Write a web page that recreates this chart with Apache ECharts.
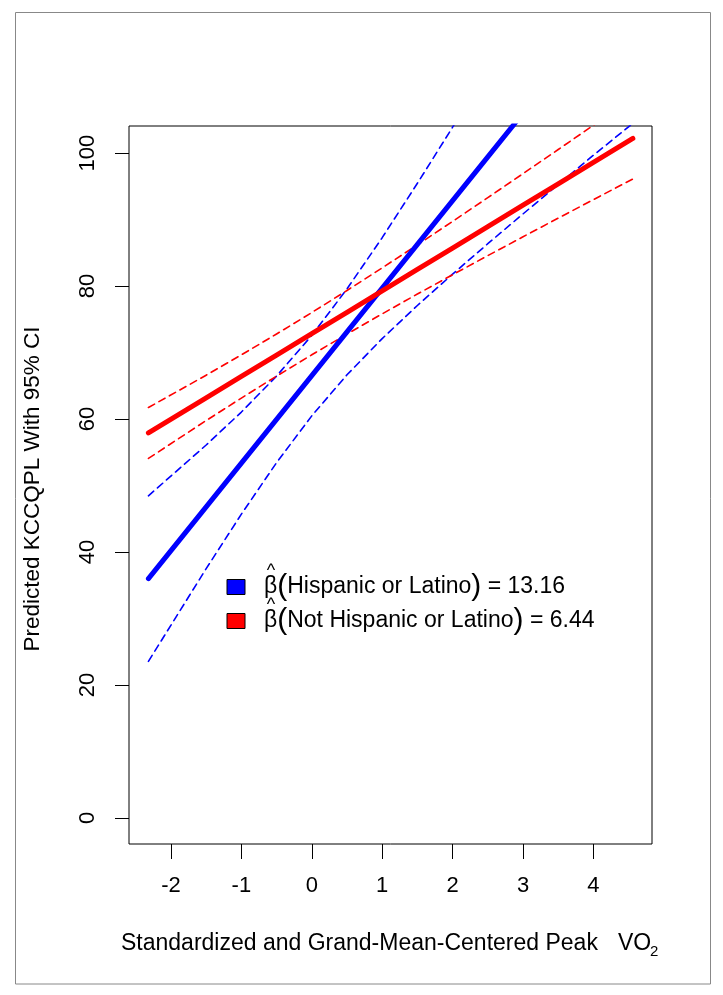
<!DOCTYPE html>
<html><head><meta charset="utf-8">
<script src="https://cdn.jsdelivr.net/npm/echarts@6/dist/echarts.min.js"></script>
<style>html,body{margin:0;padding:0;background:#fff}#c{width:723px;height:995px}</style>
</head><body><div id="c"></div>
<script>
// ---- data ----
const xs        = [-2.32, -1.5, -1, -0.5, 0, 0.5, 1, 1.5, 2, 2.5, 3, 3.5, 4, 4.56];
const blueFit   = [36.0, 46.79, 53.37, 59.95, 66.53, 73.11, 79.69, 86.27, 92.85, 99.43, 106.01, 112.6, 119.2, 126.5];
const blueUpper = [48.45, 56.09, 61.05, 66.46, 72.58, 79.57, 87.28, 95.46, 103.9, 112.5, 121.17, 129.92, 138.72, 148.52];
const blueLower = [23.55, 37.49, 45.69, 53.44, 60.48, 66.65, 72.10, 77.08, 81.80, 86.37, 90.85, 95.28, 99.68, 104.48];
const redFit    = [57.9, 63.18, 66.40, 69.62, 72.84, 76.06, 79.28, 82.50, 85.72, 88.94, 92.16, 95.38, 98.60, 102.21];
const redUpper  = [61.73, 66.59, 69.65, 72.79, 76.02, 79.34, 82.74, 86.20, 89.73, 93.30, 96.91, 100.54, 104.19, 108.31];
const redLower  = [54.07, 59.77, 63.15, 66.45, 69.66, 72.78, 75.82, 78.80, 81.71, 84.58, 87.41, 90.22, 93.01, 96.11];
const xTicks = [-2, -1, 0, 1, 2, 3, 4];
const yTicks = [0, 20, 40, 60, 80, 100];
const groups = ['Hispanic or Latino', 'Not Hispanic or Latino'];
const betas  = ['13.16', '6.44'];
const colors = ['#0000ff', '#ff0000'];
const xTitle = 'Standardized and Grand-Mean-Centered Peak';
const xTitleUnit = 'VO';
const xTitleSub = '2';
const yTitle = 'Predicted KCCQPL With 95% CI';

const FONT = '"Liberation Sans", Arial, sans-serif';

function mk(arr, color, solid) {
  return {
    type: 'line',
    data: xs.map((x, i) => [x, arr[i]]),
    symbol: 'none', showSymbol: false, clip: true, silent: true,
    lineStyle: { color: color, width: solid ? 5 : 1.6, type: solid ? 'solid' : [7, 5], cap: 'round', join: 'round' },
    z: solid ? 3 : 2
  };
}

const legendGraphics = [];
const rowY = [587, 621];
groups.forEach((g, i) => {
  legendGraphics.push({
    type: 'rect', shape: { x: 227, y: rowY[i] - 7.5, width: 18, height: 15 },
    style: { fill: colors[i], stroke: '#000', lineWidth: 1 }, silent: true
  });
  legendGraphics.push({
    type: 'text', x: 264, y: rowY[i],
    style: {
      text: '{b|β}{p|(}{t|' + g + '}{p|)}{t| = ' + betas[i] + '}',
      verticalAlign: 'middle', align: 'left',
      rich: {
        b: { fontFamily: FONT, fontSize: 23, fill: '#000', verticalAlign: 'middle' },
        p: { fontFamily: FONT, fontSize: 30, fill: '#000', verticalAlign: 'middle' },
        t: { fontFamily: FONT, fontSize: 23, fill: '#000', verticalAlign: 'middle' }
      }
    }, silent: true
  });
  legendGraphics.push({
    type: 'text', x: 271, y: rowY[i] - 16,
    style: { text: '^', fontFamily: FONT, fontSize: 18, fill: '#000', align: 'center', verticalAlign: 'middle' },
    silent: true
  });
});

const chart = echarts.init(document.getElementById('c'), null, { renderer: 'canvas' });
chart.setOption({
  animation: false,
  backgroundColor: '#fff',
  grid: { left: 129, top: 126, width: 523, height: 718, show: true, borderColor: '#000', borderWidth: 1, backgroundColor: 'transparent' },
  xAxis: {
    type: 'value', min: -2.596, max: 4.832, position: 'bottom',
    axisLine: { show: false, onZero: false },
    splitLine: { show: false },
    axisTick: { show: true, inside: false, length: 15, lineStyle: { color: '#000', width: 1 }, customValues: xTicks },
    axisLabel: { show: true, margin: 31, fontSize: 22, color: '#000', fontFamily: FONT, customValues: xTicks }
  },
  yAxis: {
    type: 'value', min: -3.93, max: 104.08, position: 'left',
    axisLine: { show: false, onZero: false },
    splitLine: { show: false },
    axisTick: { show: true, inside: false, length: 14, lineStyle: { color: '#000', width: 1 }, customValues: yTicks },
    axisLabel: { show: true, rotate: 90, margin: 30, fontSize: 22, color: '#000', fontFamily: FONT, customValues: yTicks }
  },
  series: [
    mk(blueUpper, colors[0], false), mk(blueLower, colors[0], false),
    mk(redUpper, colors[1], false), mk(redLower, colors[1], false),
    mk(blueFit, colors[0], true), mk(redFit, colors[1], true)
  ],
  graphic: [
    { type: 'rect', shape: { x: 15.5, y: 12.5, width: 695, height: 971.5 }, style: { fill: 'none', stroke: '#888', lineWidth: 1 }, silent: true, z: -1 },
    { type: 'text', x: 121, y: 944, style: { text: xTitle, fontFamily: FONT, fontSize: 23, fill: '#000', align: 'left', verticalAlign: 'middle' }, silent: true },
    { type: 'text', x: 618, y: 944, style: { text: xTitleUnit, fontFamily: FONT, fontSize: 23, fill: '#000', align: 'left', verticalAlign: 'middle' }, silent: true },
    { type: 'text', x: 650, y: 952, style: { text: xTitleSub, fontFamily: FONT, fontSize: 15, fill: '#000', align: 'left', verticalAlign: 'middle' }, silent: true },
    { type: 'text', x: 33, y: 489, rotation: Math.PI / 2, style: { text: yTitle, fontFamily: FONT, fontSize: 22.5, fill: '#000', align: 'center', verticalAlign: 'middle' }, silent: true }
  ].concat(legendGraphics)
});
</script>
</body></html>
